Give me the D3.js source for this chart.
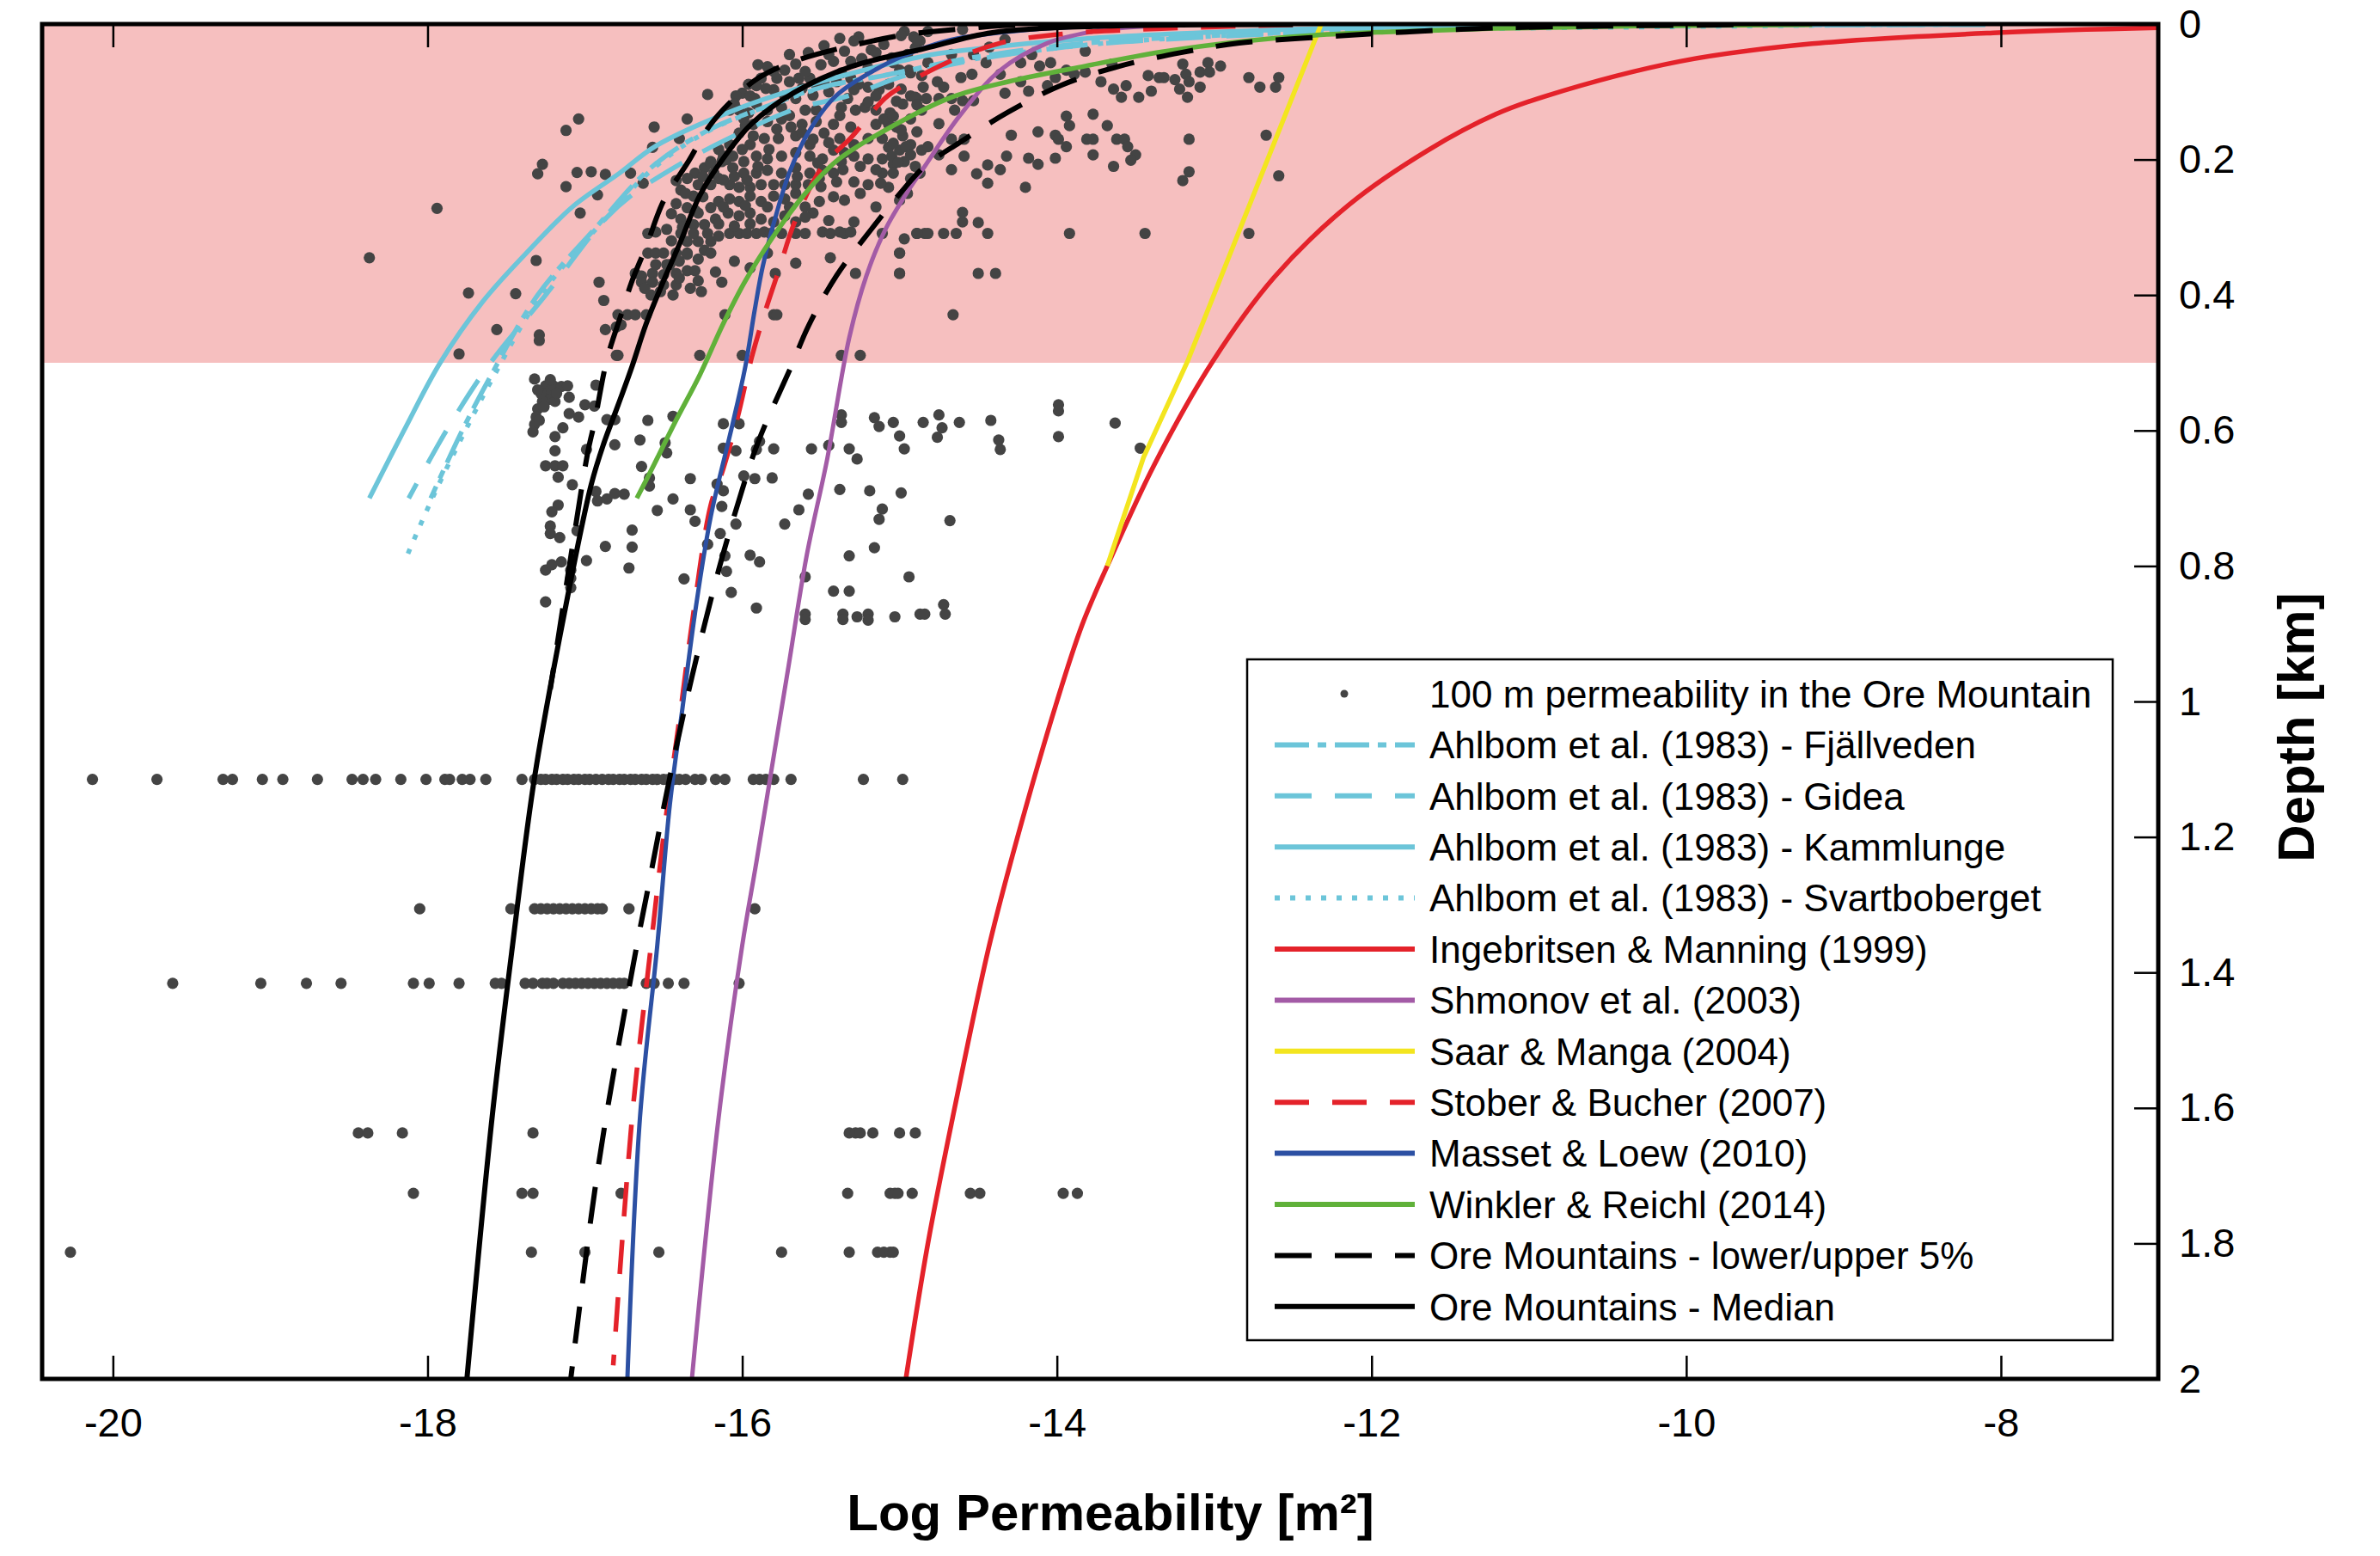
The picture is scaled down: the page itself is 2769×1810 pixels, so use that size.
<!DOCTYPE html>
<html>
<head>
<meta charset="utf-8">
<script src="https://cdn.jsdelivr.net/npm/d3@7"></script>
<style>
  body { margin: 0; background: #fff; }
  text { font-family: "Liberation Sans", Arial, Helvetica, sans-serif; }
</style>
</head>
<body>
<div id="chart"></div>
<script>
// ---- data: [log permeability, depth km] ----
var xTicks = [-20, -18, -16, -14, -12, -10, -8];
var yTicks = [0, 0.2, 0.4, 0.6, 0.8, 1, 1.2, 1.4, 1.6, 1.8, 2];
var shallowZone = [0, 0.5];

// dense cluster of samples in the upper 0.5 km
var shallowCore = [
  [-14.97,0.011],[-14.91,0.019],[-14.87,0.025],[-15.26,0.019],[-15.29,0.025],[-15.38,0.021],[-15.18,0.038],[-15.48,0.032],
  [-15.42,0.055],[-15.31,0.055],[-15.24,0.051],[-15.15,0.042],[-15.58,0.042],[-15.66,0.059],[-15.73,0.068],[-15.80,0.07],
  [-15.84,0.063],[-15.88,0.08],[-15.91,0.091],[-15.96,0.089],[-16.00,0.102],[-16.04,0.106],[-15.95,0.106],[-15.80,0.097],
  [-15.73,0.106],[-15.64,0.08],[-15.57,0.08],[-15.53,0.089],[-15.48,0.085],[-15.37,0.072],[-15.31,0.08],[-15.26,0.089],
  [-15.29,0.097],[-15.20,0.093],[-15.13,0.097],[-15.07,0.089],[-15.00,0.068],[-14.93,0.072],[-14.86,0.076],[-14.85,0.093],
  [-14.93,0.106],[-15.02,0.114],[-15.15,0.106],[-15.22,0.123],[-15.15,0.127],[-15.06,0.131],[-14.98,0.118],[-14.89,0.11],
  [-14.86,0.127],[-14.93,0.14],[-15.02,0.152],[-15.07,0.148],[-15.15,0.148],[-15.28,0.127],[-15.37,0.123],[-15.38,0.135],
  [-15.31,0.152],[-15.42,0.148],[-15.53,0.127],[-15.60,0.127],[-15.66,0.11],[-15.75,0.123],[-15.84,0.127],[-15.91,0.118],
  [-15.96,0.131],[-16.02,0.127],[-16.08,0.127],[-15.93,0.148],[-15.84,0.144],[-15.75,0.14],[-15.69,0.152],[-15.62,0.148],
  [-15.53,0.144],[-15.48,0.161],[-15.57,0.178],[-15.66,0.165],[-15.77,0.169],[-15.86,0.169],[-15.95,0.178],[-16.02,0.161],
  [-16.08,0.178],[-16.06,0.195],[-15.99,0.203],[-15.91,0.195],[-15.84,0.199],[-15.75,0.195],[-15.66,0.19],[-15.57,0.195],
  [-15.49,0.199],[-15.42,0.186],[-15.38,0.169],[-15.29,0.178],[-15.20,0.169],[-15.11,0.169],[-15.07,0.182],[-15.00,0.186],
  [-14.93,0.178],[-14.86,0.186],[-14.97,0.203],[-15.04,0.207],[-15.11,0.199],[-15.20,0.199],[-15.29,0.195],[-15.37,0.203],
  [-15.42,0.22],[-15.49,0.216],[-15.57,0.22],[-15.66,0.212],[-15.75,0.22],[-15.84,0.216],[-15.91,0.22],[-15.99,0.22],
  [-16.06,0.212],[-16.13,0.203],[-16.20,0.203],[-16.24,0.212],[-16.30,0.22],[-16.35,0.228],[-16.28,0.237],[-16.20,0.237],
  [-16.15,0.228],[-16.08,0.237],[-16.02,0.241],[-15.95,0.241],[-15.88,0.237],[-15.80,0.237],[-15.73,0.237],[-15.66,0.237],
  [-15.58,0.237],[-15.51,0.228],[-15.40,0.233],[-15.29,0.233],[-15.20,0.237],[-15.11,0.22],[-15.04,0.22],[-14.93,0.228],
  [-14.87,0.22],[-15.07,0.241],
  [-16.39,0.245],[-16.31,0.254],[-16.35,0.271],[-16.28,0.279],[-16.20,0.271],[-16.15,0.262],[-16.08,0.258],[-16.02,0.262],
  [-15.95,0.254],[-15.88,0.262],[-15.80,0.254],[-15.73,0.258],[-15.66,0.25],[-15.51,0.262],[-15.35,0.26],[-16.39,0.288],
  [-16.31,0.296],[-16.24,0.296],[-16.17,0.288],[-16.09,0.279],[-16.02,0.283],[-15.95,0.279],[-15.88,0.288],[-15.80,0.292],
  [-15.73,0.283],[-15.66,0.292],[-15.55,0.279],[-15.29,0.292],[-16.35,0.321],[-16.28,0.321],[-16.20,0.321],[-16.24,0.334],
  [-16.35,0.338],[-16.28,0.347],[-16.20,0.338],[-15.84,0.338],[-15.79,0.368],[-15.66,0.353],[-15.44,0.345],[-15.28,0.368],
  [-15.00,0.368],[-15.00,0.338],[-14.97,0.317],
  [-16.60,0.309],[-16.55,0.307],[-16.48,0.303],[-16.39,0.309],[-16.31,0.309],[-16.22,0.309],[-16.15,0.313],[-16.08,0.309],
  [-16.02,0.309],[-15.97,0.309],[-15.91,0.309],[-15.86,0.307],[-15.82,0.309],[-15.75,0.309],[-15.66,0.309],[-15.60,0.309],
  [-15.49,0.307],[-15.44,0.309],[-15.38,0.307],[-15.35,0.309],[-15.31,0.307],[-15.11,0.309],[-14.89,0.309],[-14.84,0.309],
  [-16.68,0.368],[-16.64,0.372],[-16.57,0.368],[-16.50,0.37],[-16.42,0.368],[-16.35,0.364],[-16.30,0.364],[-16.28,0.379],
  [-16.17,0.366],[-16.13,0.381],[-16.64,0.381],[-16.57,0.381],[-16.50,0.385],[-16.42,0.385],[-16.60,0.338],[-16.55,0.338],
  [-16.50,0.338],[-16.42,0.338],[-16.35,0.34],
  [-15.98,0.15],[-16.15,0.185],[-16.12,0.195],[-16.20,0.205],[-16.10,0.2],[-16.0,0.185],[-15.93,0.165],[-16.18,0.22],
  [-16.25,0.225],[-16.12,0.23],[-16.05,0.225],[-15.97,0.23],[-15.90,0.21],[-15.83,0.185],[-15.78,0.155],[-15.70,0.135],
  [-15.62,0.16],[-15.55,0.17],[-15.45,0.175],[-15.35,0.19],[-15.25,0.21],[-15.15,0.215],[-15.05,0.195],[-14.98,0.165],
  [-15.10,0.14],[-15.20,0.115],[-15.33,0.11],[-15.45,0.1],[-15.55,0.105],[-15.62,0.095],[-15.70,0.085],[-15.78,0.08],
  [-15.85,0.095],[-15.92,0.11],[-16.05,0.118],[-15.99,0.14],[-16.36,0.25],[-16.42,0.265],[-16.45,0.28],[-16.25,0.255],
  [-16.12,0.27],[-15.98,0.268],[-15.84,0.27],[-15.70,0.27],[-15.60,0.27],[-16.30,0.275],[-16.38,0.3],[-16.45,0.32],
  [-16.40,0.35],[-16.46,0.355],[-16.15,0.295],[-16.05,0.298],[-15.95,0.295],[-16.33,0.39],[-16.26,0.395],[-16.44,0.4],
  [-16.52,0.395],[-16.58,0.4],[-16.62,0.39],[-16.40,0.375],[-16.48,0.355],[-16.55,0.355],[-16.05,0.35],[-15.95,0.36],
  [-15.50,0.24],[-15.42,0.255],[-15.25,0.25],[-15.15,0.27],[-15.00,0.26],[-15.45,0.29],[-15.60,0.285],[-15.52,0.205],
  [-15.65,0.225],[-15.36,0.215],[-14.95,0.25],[-14.90,0.21],[-15.12,0.235],[-15.50,0.06],[-15.60,0.07],[-15.45,0.045],
  [-15.35,0.04],[-15.10,0.03],[-15.05,0.05],[-14.95,0.045],[-14.90,0.035],[-15.20,0.065],[-15.40,0.085],[-15.70,0.045],
  [-15.90,0.06]
];

// samples east of the cluster, upper 0.5 km
var shallowEast = [
  [-14.99,0.017],[-14.82,0.011],[-14.89,0.023],[-14.60,0.008],[-15.04,0.057],[-14.94,0.068],[-14.67,0.045],[-14.53,0.045],
  [-14.43,0.034],[-14.33,0.023],[-14.23,0.057],[-14.16,0.045],[-14.11,0.062],[-14.04,0.057],[-14.82,0.057],[-14.76,0.085],
  [-14.72,0.093],[-14.61,0.079],[-14.54,0.074],[-14.45,0.057],[-14.36,0.074],[-14.23,0.085],[-14.33,0.102],[-14.18,0.099],
  [-14.06,0.091],[-14.01,0.079],[-13.94,0.068],[-13.89,0.074],[-13.82,0.071],[-13.82,0.04],[-13.72,0.085],[-13.65,0.059],
  [-13.64,0.096],[-13.59,0.108],[-13.56,0.091],[-13.48,0.108],[-13.42,0.076],[-13.40,0.099],[-13.35,0.079],[-13.32,0.079],
  [-13.25,0.082],[-13.22,0.096],[-13.20,0.059],[-13.18,0.074],[-13.16,0.085],[-13.17,0.108],[-13.09,0.093],[-13.09,0.071],
  [-13.04,0.057],[-13.03,0.071],[-12.96,0.062],[-12.78,0.079],[-12.71,0.093],[-12.61,0.093],[-12.59,0.079],
  [-14.99,0.096],[-14.90,0.108],[-14.89,0.119],[-14.83,0.11],[-14.75,0.11],[-14.67,0.11],[-14.65,0.127],[-14.60,0.113],
  [-14.53,0.113],[-15.04,0.136],[-14.99,0.156],[-14.89,0.159],[-14.75,0.147],[-14.59,0.17],[-15.04,0.176],[-14.96,0.181],
  [-14.93,0.193],[-15.01,0.204],[-14.82,0.181],[-14.75,0.193],[-14.67,0.17],[-14.67,0.215],[-14.59,0.195],[-14.51,0.221],
  [-14.44,0.208],[-14.44,0.235],[-14.36,0.215],[-14.32,0.195],[-14.29,0.164],[-14.20,0.241],[-14.18,0.198],[-14.12,0.207],
  [-14.12,0.159],[-14.01,0.198],[-14.01,0.164],[-13.99,0.17],[-13.94,0.181],[-13.94,0.136],[-13.92,0.15],[-13.81,0.17],
  [-13.77,0.17],[-13.77,0.133],[-13.77,0.193],[-13.68,0.15],[-13.62,0.17],[-13.57,0.17],[-13.55,0.181],[-13.50,0.193],
  [-13.53,0.201],[-13.64,0.21],[-13.16,0.17],[-13.16,0.218],[-13.20,0.231],[-12.67,0.164],[-12.59,0.224],
  [-14.89,0.309],[-14.82,0.309],[-14.72,0.309],[-14.64,0.309],[-14.44,0.309],[-13.92,0.309],[-13.44,0.309],[-12.78,0.309],
  [-14.60,0.278],[-14.60,0.292],[-14.50,0.293],[-15.00,0.338],[-15.00,0.368],[-14.50,0.368],[-14.39,0.368],[-14.66,0.429]
];

// scattered low-permeability samples west of the cluster
var shallowWest = [
  [-16.22,0.104],[-17.04,0.14],[-17.12,0.157],[-16.56,0.152],[-16.35,0.14],[-17.27,0.207],[-17.30,0.221],[-17.05,0.219],
  [-16.96,0.218],[-16.87,0.222],[-17.12,0.24],[-16.92,0.252],[-16.71,0.22],[-16.63,0.235],[-16.42,0.231],[-16.57,0.182],
  [-16.40,0.169],[-17.03,0.279],[-17.31,0.349],[-17.44,0.398],[-16.91,0.381],[-16.88,0.408],[-17.56,0.451],[-17.29,0.459],
  [-17.29,0.467],[-16.87,0.451],[-16.80,0.447],[-16.79,0.429],[-16.77,0.444],[-16.79,0.489],[-16.73,0.429],[-16.68,0.429],
  [-16.61,0.429],[-16.11,0.429],[-15.80,0.429],[-15.78,0.429],[-17.94,0.272],[-18.37,0.345],[-17.74,0.397],[-17.80,0.487]
];

// samples between 0.5 and 0.9 km
var midDepth = [
  [-16.80,0.489],[-16.27,0.489],[-16.00,0.489],[-15.37,0.489],[-15.25,0.489],
  [-17.32,0.524],[-17.25,0.534],[-17.23,0.543],[-17.20,0.534],[-17.15,0.535],[-17.11,0.534],[-17.23,0.554],[-17.19,0.557],
  [-17.27,0.557],[-17.30,0.568],[-17.31,0.58],[-17.32,0.591],[-17.33,0.602],[-17.10,0.551],[-16.93,0.533],[-17.00,0.562],
  [-16.94,0.564],[-17.10,0.575],[-17.04,0.58],[-17.14,0.596],[-17.19,0.609],[-17.19,0.63],[-17.25,0.652],[-17.19,0.652],
  [-17.14,0.652],[-17.17,0.669],[-17.08,0.68],[-17.17,0.71],[-17.21,0.72],[-17.22,0.741],[-17.22,0.752],[-17.16,0.758],
  [-17.05,0.748],[-17.25,0.806],[-17.21,0.798],[-17.15,0.794],[-17.09,0.806],[-17.09,0.818],[-17.09,0.832],[-17.25,0.853],
  [-17.28,0.545],[-17.26,0.565],[-17.29,0.585],[-17.22,0.525],[-17.18,0.545],[-17.30,0.54],
  [-16.99,0.628],[-16.99,0.792],[-16.87,0.771],[-16.86,0.584],[-16.81,0.584],[-16.81,0.621],[-16.93,0.69],[-16.92,0.704],
  [-16.86,0.701],[-16.81,0.693],[-16.75,0.694],[-16.70,0.747],[-16.70,0.772],[-16.72,0.803],[-16.65,0.614],[-16.64,0.653],
  [-16.60,0.585],[-16.59,0.67],[-16.59,0.682],[-16.49,0.618],[-16.48,0.633],[-16.44,0.579],[-16.44,0.701],[-16.54,0.718],
  [-16.33,0.671],[-16.33,0.717],[-16.30,0.734],[-16.22,0.768],[-16.37,0.819],[-16.16,0.679],[-16.12,0.689],[-16.13,0.712],
  [-16.14,0.752],[-16.11,0.785],[-16.10,0.808],[-16.07,0.839],[-16.12,0.59],[-16.02,0.59],[-16.12,0.626],[-16.04,0.63],
  [-15.99,0.667],[-15.92,0.671],[-15.81,0.67],[-16.04,0.738],[-15.95,0.784],[-15.89,0.794],[-15.91,0.862],[-15.89,0.616],
  [-15.91,0.628],[-15.80,0.627],[-15.73,0.738],[-15.64,0.717],[-15.58,0.694],[-15.60,0.816],[-15.60,0.871],[-15.60,0.879],
  [-15.56,0.627],[-15.45,0.622],[-15.37,0.577],[-15.37,0.588],[-15.38,0.687],[-15.32,0.627],[-15.27,0.642],[-15.32,0.785],
  [-15.42,0.837],[-15.32,0.837],[-15.36,0.871],[-15.36,0.879],[-15.27,0.875],[-15.20,0.871],[-15.20,0.88],[-15.19,0.689],
  [-15.16,0.581],[-15.13,0.594],[-15.11,0.716],[-15.13,0.731],[-15.16,0.773],[-15.04,0.588],[-15.00,0.608],[-14.99,0.692],
  [-14.97,0.627],[-14.94,0.816],[-15.03,0.875],[-14.87,0.871],[-14.84,0.871],[-14.85,0.588],[-14.76,0.61],[-14.75,0.577],
  [-14.73,0.596],[-14.72,0.857],[-14.71,0.871],[-14.68,0.733],[-14.62,0.588],[-14.42,0.585],[-14.37,0.614],[-14.36,0.628],
  [-13.99,0.562],[-13.99,0.571],[-13.99,0.609],[-13.63,0.589],[-13.47,0.626]
];

// deeper samples sit on a few discrete depths
var rowDepths = [1.115, 1.306, 1.416, 1.637, 1.726, 1.813];
var rowLogK = [
  [-20.13,-19.72,-19.30,-19.24,-19.05,-18.92,-18.70,-18.48,-18.41,-18.33,-18.17,-18.01,-17.89,-17.86,-17.78,-17.73,-17.63,
   -17.40,-17.32,-17.28,-17.25,-17.21,-17.18,-17.14,-17.11,-17.07,-17.04,-17.00,-16.97,-16.93,-16.89,-16.85,-16.82,-16.78,
   -16.75,-16.71,-16.68,-16.64,-16.61,-16.57,-16.54,-16.50,-16.47,-16.43,-16.40,-16.36,-16.30,-16.26,-16.17,-16.11,-15.93,
   -15.89,-15.85,-15.80,-15.69,-15.23,-14.98],
  [-18.05,-17.47,-17.32,-17.28,-17.24,-17.20,-17.16,-17.12,-17.08,-17.04,-17.00,-16.96,-16.92,-16.89,-16.72,-15.92],
  [-19.62,-19.06,-18.77,-18.55,-18.09,-17.99,-17.80,-17.57,-17.53,-17.38,-17.33,-17.27,-17.24,-17.20,-17.14,-17.10,-17.06,
   -17.02,-16.98,-16.94,-16.90,-16.86,-16.82,-16.78,-16.75,-16.61,-16.56,-16.47,-16.37,-16.02],
  [-18.44,-18.38,-18.16,-17.33,-15.32,-15.28,-15.25,-15.17,-15.00,-14.90],
  [-18.09,-17.40,-17.33,-16.77,-15.33,-15.06,-15.03,-15.01,-14.92,-14.55,-14.49,-13.96,-13.87],
  [-20.27,-17.34,-17.00,-16.53,-15.75,-15.32,-15.14,-15.10,-15.06,-15.04]
];

// published depth-permeability relations
var fjallveden = [[-8.1,0.0006],[-10.5,0.0028],[-12.0,0.008],[-13.1,0.018],[-13.7,0.026],[-14.1,0.035],[-14.6,0.052],
  [-15.1,0.076],[-15.49,0.093],[-15.85,0.122],[-16.21,0.156],[-16.57,0.21],[-16.94,0.303],[-17.30,0.40],[-17.60,0.52],
  [-17.78,0.60],[-17.98,0.70]];
var gidea = [[-8.1,0.0006],[-10.5,0.003],[-12.0,0.009],[-13.09,0.0198],[-13.67,0.028],[-14.06,0.037],[-14.55,0.054],
  [-14.98,0.077],[-15.31,0.105],[-15.67,0.126],[-16.08,0.168],[-16.39,0.206],[-16.70,0.252],[-16.88,0.29],[-17.25,0.40],
  [-17.60,0.50],[-17.88,0.60],[-18.12,0.70]];
var kammlunge = [[-8.1,0.0005],[-10.7,0.002],[-11.8,0.0045],[-12.6,0.0085],[-13.82,0.0215],[-14.64,0.04],[-14.82,0.046],
  [-15.5,0.085],[-16.05,0.127],[-16.55,0.18],[-16.78,0.22],[-17.08,0.27],[-17.38,0.34],[-17.65,0.41],[-17.92,0.50],
  [-18.15,0.60],[-18.37,0.70]];
var svartboberget = [[-8.4,0.0006],[-10.1,0.004],[-12.15,0.01],[-13.18,0.02],[-13.78,0.03],[-14.48,0.05],[-15.08,0.075],
  [-15.48,0.093],[-15.84,0.122],[-16.2,0.156],[-16.55,0.21],[-16.92,0.30],[-17.28,0.40],[-17.58,0.52],[-17.76,0.60],
  [-17.97,0.70],[-18.14,0.79]];
var ingebritsen = [[-7.0,0.0055],[-8.02,0.0127],[-9.2,0.029],[-10.04,0.055],[-10.89,0.106],[-11.21,0.133],[-11.64,0.186],
  [-12.14,0.266],[-12.62,0.374],[-13.01,0.498],[-13.38,0.65],[-13.68,0.80],[-13.84,0.887],[-14.0,1.0],[-14.25,1.2],
  [-14.43,1.36],[-14.65,1.6],[-14.82,1.8],[-14.96,2.0]];
var shmonov = [[-13.2,0.001],[-13.6,0.006],[-13.77,0.011],[-14.06,0.028],[-14.36,0.068],[-14.62,0.136],[-14.84,0.21],
  [-14.94,0.244],[-15.09,0.303],[-15.21,0.371],[-15.32,0.463],[-15.46,0.642],[-15.59,0.784],[-15.71,0.954],[-15.81,1.095],
  [-15.91,1.237],[-16.0,1.36],[-16.15,1.614],[-16.32,2.0]];
var saarManga = [[-12.32,0],[-12.61,0.17],[-12.88,0.328],[-13.17,0.498],[-13.45,0.64],[-13.68,0.80]];
var stoberBucher = [[-12.5,0.001],[-13.37,0.007],[-13.94,0.014],[-14.36,0.028],[-14.70,0.057],[-14.97,0.09],[-15.09,0.109],
  [-15.31,0.168],[-15.49,0.21],[-15.67,0.294],[-15.76,0.358],[-15.85,0.421],[-15.94,0.492],[-16.03,0.581],[-16.12,0.656],
  [-16.20,0.71],[-16.31,0.869],[-16.39,1.01],[-16.49,1.18],[-16.58,1.36],[-16.70,1.614],[-16.82,1.98]];
var massetLoew = [[-13.2,0.0008],[-13.70,0.0025],[-14.19,0.0085],[-14.67,0.023],[-14.9,0.04],[-15.12,0.063],[-15.40,0.105],
  [-15.58,0.16],[-15.70,0.219],[-15.79,0.286],[-15.87,0.358],[-15.92,0.421],[-15.98,0.505],[-16.06,0.589],[-16.20,0.727],
  [-16.30,0.869],[-16.38,1.01],[-16.46,1.152],[-16.54,1.36],[-16.65,1.614],[-16.73,2.0]];
var winklerReichl = [[-9.2,0.001],[-10.3,0.0029],[-11.21,0.0065],[-11.87,0.0114],[-12.36,0.0165],[-12.84,0.026],
  [-13.33,0.041],[-13.82,0.062],[-14.31,0.085],[-14.67,0.108],[-15.04,0.15],[-15.40,0.202],[-15.61,0.253],[-15.81,0.316],
  [-15.98,0.379],[-16.12,0.442],[-16.27,0.518],[-16.43,0.589],[-16.56,0.65],[-16.67,0.70]];
var oreLower = [[-13.5,0.0005],[-14.3,0.002],[-14.55,0.006],[-14.79,0.011],[-14.94,0.0147],[-15.31,0.032],[-15.67,0.055],
  [-15.90,0.08],[-16.07,0.114],[-16.21,0.151],[-16.34,0.202],[-16.50,0.261],[-16.61,0.328],[-16.70,0.379],[-16.77,0.429],
  [-16.86,0.495],[-16.94,0.589],[-16.98,0.63],[-17.08,0.772],[-17.22,0.982]];
var oreUpper = [[-9.7,0.001],[-11.21,0.0057],[-11.87,0.0127],[-12.36,0.0198],[-12.84,0.028],[-13.21,0.042],[-13.60,0.062],
  [-13.97,0.09],[-14.31,0.13],[-14.62,0.175],[-14.84,0.21],[-14.99,0.248],[-15.18,0.303],[-15.40,0.371],[-15.58,0.446],
  [-15.69,0.506],[-15.85,0.589],[-15.92,0.63],[-16.0,0.687],[-16.15,0.806],[-16.32,0.964],[-16.47,1.123],[-16.60,1.277],
  [-16.67,1.36],[-16.87,1.62],[-16.96,1.76],[-17.09,2.0]];
var oreMedian = [[-12.5,0.0005],[-13.7,0.003],[-14.41,0.0127],[-14.84,0.036],[-15.31,0.063],[-15.67,0.101],[-15.94,0.147],
  [-16.12,0.198],[-16.27,0.253],[-16.39,0.32],[-16.50,0.379],[-16.61,0.442],[-16.70,0.505],[-16.79,0.563],[-16.88,0.619],
  [-16.96,0.68],[-17.13,0.869],[-17.32,1.112],[-17.46,1.36],[-17.59,1.614],[-17.75,2.0]];

// ---- styles ----
var cyan = "#6cc5d9", red = "#e4222a", purple = "#a35ba6", yellow = "#f3e51f",
    blue = "#2c50a3", green = "#60b13a", pink = "#f6bfbf", dotColor = "#444444";

var curves = [
  { name: "Ahlbom et al. (1983) - Fjällveden", data: fjallveden, color: cyan, width: 5.5, dash: "40,10,10,10" },
  { name: "Ahlbom et al. (1983) - Gidea", data: gidea, color: cyan, width: 5.5, dash: "43,27" },
  { name: "Ahlbom et al. (1983) - Kammlunge", data: kammlunge, color: cyan, width: 5.5, dash: null },
  { name: "Ahlbom et al. (1983) - Svartboberget", data: svartboberget, color: cyan, width: 5.5, dash: "6,12" },
  { name: "Ingebritsen & Manning (1999)", data: ingebritsen, color: red, width: 5.5, dash: null },
  { name: "Shmonov et al. (2003)", data: shmonov, color: purple, width: 5, dash: null },
  { name: "Saar & Manga (2004)", data: saarManga, color: yellow, width: 5.5, dash: null, straight: true },
  { name: "Stober & Bucher (2007)", data: stoberBucher, color: red, width: 5.5, dash: "40,27" },
  { name: "Masset & Loew (2010)", data: massetLoew, color: blue, width: 5, dash: null },
  { name: "Winkler & Reichl (2014)", data: winklerReichl, color: green, width: 5.5, dash: null },
  { name: "Ore Mountains - lower/upper 5%", data: oreLower, color: "#000", width: 6, dash: "43,27" },
  { name: null, data: oreUpper, color: "#000", width: 6, dash: "43,27" },
  { name: "Ore Mountains - Median", data: oreMedian, color: "#000", width: 6, dash: null }
];

// ---- layout ----
var margin = { top: 28, right: 258, bottom: 206, left: 49 },
    width = 2769 - margin.left - margin.right,
    height = 1810 - margin.top - margin.bottom;

var x = d3.scaleLinear().domain([-20.45, -7]).range([0, width]);
var y = d3.scaleLinear().domain([0, 2]).range([0, height]);

var root = d3.select("#chart").append("svg")
    .attr("width", 2769)
    .attr("height", 1810);

var svg = root.append("g")
    .attr("transform", "translate(" + margin.left + "," + margin.top + ")");

svg.append("clipPath").attr("id", "clip")
  .append("rect").attr("width", width).attr("height", height);

// shallow zone band
svg.append("rect")
    .attr("x", 0)
    .attr("y", y(shallowZone[0]))
    .attr("width", width)
    .attr("height", y(shallowZone[1]) - y(shallowZone[0]))
    .attr("fill", pink);

var plot = svg.append("g").attr("clip-path", "url(#clip)");

// samples
var samples = shallowCore.concat(shallowEast, shallowWest, midDepth);
rowDepths.forEach(function (d, i) {
    rowLogK[i].forEach(function (k) { samples.push([k, d]); });
});

plot.selectAll("circle.sample")
    .data(samples)
    .enter()
    .append("circle")
    .attr("class", "sample")
    .attr("cx", function (d) { return x(d[0]); })
    .attr("cy", function (d) { return y(d[1]); })
    .attr("r", 6.6)
    .attr("fill", dotColor);

// curves
curves.forEach(function (c) {
    var pts = c.data.slice().sort(function (a, b) { return a[1] - b[1]; });
    var line = d3.line()
        .x(function (d) { return x(d[0]); })
        .y(function (d) { return y(d[1]); })
        .curve(c.straight ? d3.curveLinear : d3.curveCatmullRom.alpha(0.5));
    plot.append("path")
        .datum(pts)
        .attr("d", line)
        .attr("fill", "none")
        .attr("stroke", c.color)
        .attr("stroke-width", c.width)
        .attr("stroke-dasharray", c.dash)
        .attr("stroke-linecap", "butt");
});

// axes
var fmt = function (d) { return String(+(+d).toFixed(1)); };

var gBottom = svg.append("g")
    .attr("transform", "translate(0," + height + ")")
    .call(d3.axisBottom(x).tickValues(xTicks).tickSizeInner(-27).tickSizeOuter(0).tickPadding(34).tickFormat(fmt));
var gTop = svg.append("g")
    .call(d3.axisTop(x).tickValues(xTicks).tickSizeInner(-27).tickSizeOuter(0).tickFormat(""));
var gRight = svg.append("g")
    .attr("transform", "translate(" + width + ",0)")
    .call(d3.axisRight(y).tickValues(yTicks).tickSizeInner(-28).tickSizeOuter(0).tickPadding(24).tickFormat(fmt));

[gBottom, gTop, gRight].forEach(function (g) {
    g.select(".domain").remove();
    g.selectAll("line").attr("stroke", "#000").attr("stroke-width", 2.5);
    g.selectAll("text")
        .attr("font-size", 47)
        .attr("font-family", "'Liberation Sans', Arial, sans-serif")
        .attr("fill", "#000");
});

// frame
svg.append("rect")
    .attr("width", width)
    .attr("height", height)
    .attr("fill", "none")
    .attr("stroke", "#000")
    .attr("stroke-width", 5);

// axis titles
root.append("text")
    .attr("x", 1292)
    .attr("y", 1780)
    .attr("text-anchor", "middle")
    .attr("font-size", 60)
    .attr("font-weight", "bold")
    .text("Log Permeability [m²]");

root.append("text")
    .attr("transform", "translate(2692,846) rotate(-90)")
    .attr("text-anchor", "middle")
    .attr("font-size", 60)
    .attr("font-weight", "bold")
    .text("Depth [km]");

// legend
var legend = root.append("g").attr("transform", "translate(1451,767)");
legend.append("rect")
    .attr("width", 1007)
    .attr("height", 792)
    .attr("fill", "#fff")
    .attr("stroke", "#000")
    .attr("stroke-width", 2.5);

var entries = [{ name: "100 m permeability in the Ore Mountain", dot: true }]
    .concat(curves.filter(function (c) { return c.name; }));

var item = legend.selectAll("g.item")
    .data(entries)
    .enter()
    .append("g")
    .attr("class", "item")
    .attr("transform", function (d, i) { return "translate(0," + (40 + i * 59.4) + ")"; });

item.filter(function (d) { return d.dot; })
    .append("circle")
    .attr("cx", 113)
    .attr("cy", 0)
    .attr("r", 4.5)
    .attr("fill", dotColor);

item.filter(function (d) { return !d.dot; })
    .append("line")
    .attr("x1", 32)
    .attr("x2", 195)
    .attr("stroke", function (d) { return d.color; })
    .attr("stroke-width", 6)
    .attr("stroke-dasharray", function (d) { return d.dash; });

item.append("text")
    .attr("x", 212)
    .attr("dy", "0.36em")
    .attr("font-size", 44)
    .text(function (d) { return d.name; });
</script>
</body>
</html>
